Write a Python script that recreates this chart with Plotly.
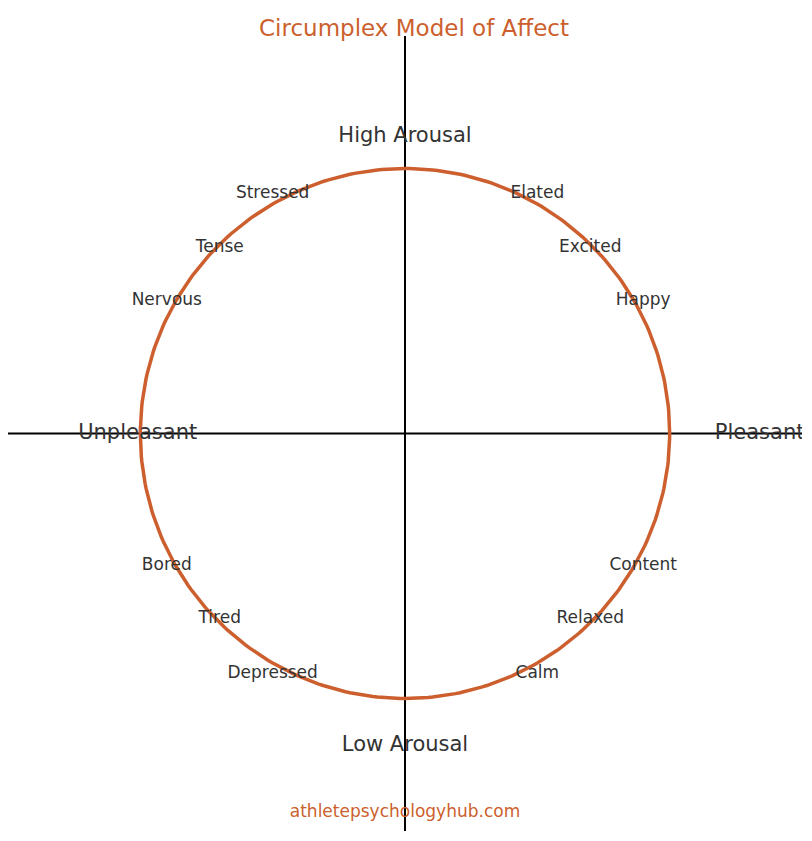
import numpy as np
import plotly.graph_objects as go

# emotion labels and their positions on the unit circle
emotions = ["Elated", "Excited", "Happy", "Content", "Relaxed", "Calm",
            "Depressed", "Tired", "Bored", "Nervous", "Tense", "Stressed"]
emo_x = [0.50, 0.70, 0.90, 0.90, 0.70, 0.50, -0.50, -0.70, -0.90, -0.90, -0.70, -0.50]
emo_y = [0.906, 0.70, 0.50, -0.50, -0.70, -0.906, -0.906, -0.70, -0.50, 0.50, 0.70, 0.906]

# axis pole labels
poles = ["High Arousal", "Low Arousal", "Pleasant", "Unpleasant"]
pole_x = [0.0, 0.0, 1.34, -1.01]
pole_y = [1.12, -1.18, 0.0, 0.0]

orange = "#CC5F2D"
dark = "#333333"

theta = np.linspace(0, 2 * np.pi, 361)
fig = go.Figure()

# axes
fig.add_trace(go.Scatter(x=[-1.5, 1.5], y=[0, 0], mode="lines", line=dict(color="black", width=2), hoverinfo="skip"))
fig.add_trace(go.Scatter(x=[0, 0], y=[-1.5, 1.5], mode="lines", line=dict(color="black", width=2), hoverinfo="skip"))

# circle
fig.add_trace(go.Scatter(x=np.cos(theta), y=np.sin(theta), mode="lines", line=dict(color=orange, width=3.5), hoverinfo="skip"))

fig.add_trace(go.Scatter(x=emo_x, y=emo_y, mode="text", text=emotions,
                         textfont=dict(size=17, color=dark, family="DejaVu Sans")))
fig.add_trace(go.Scatter(x=pole_x, y=pole_y, mode="text", text=poles,
                         textfont=dict(size=21, color=dark, family="DejaVu Sans")))
fig.add_trace(go.Scatter(x=[0], y=[-1.43], mode="text", text=["athletepsychologyhub.com"],
                         textfont=dict(size=17, color=orange, family="DejaVu Sans")))

fig.update_layout(
    width=812, height=841,
    title=dict(text="Circumplex Model of Affect", x=0.5, xanchor="center", y=0.976, yanchor="middle",
               font=dict(size=23, color=orange, family="DejaVu Sans")),
    showlegend=False,
    plot_bgcolor="white", paper_bgcolor="white",
    margin=dict(l=0, r=18, t=28, b=18),
    xaxis=dict(range=[-1.5, 1.5], visible=False),
    yaxis=dict(range=[-1.5, 1.5], visible=False),
)

fig.write_html("out.html")
